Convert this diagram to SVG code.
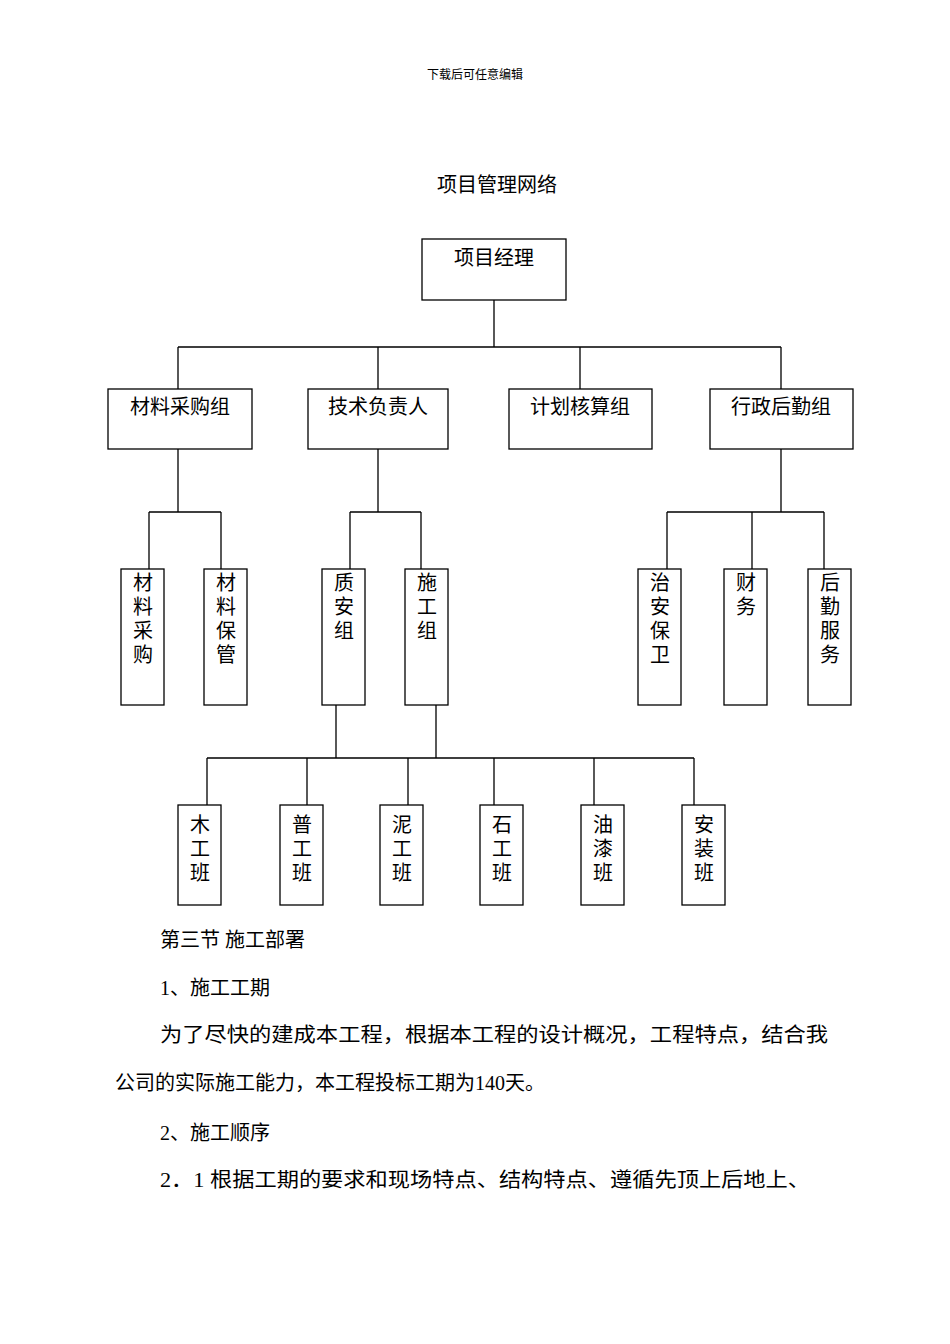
<svg xmlns="http://www.w3.org/2000/svg" width="950" height="1344" viewBox="0 0 950 1344">
<style>
text{font-family:"Liberation Serif","Noto Sans CJK SC",serif;fill:#000}
.b{fill:#fff;stroke:#000;stroke-width:1.3}
.l{stroke:#000;stroke-width:1.3;fill:none}
.t{font-size:20px;text-anchor:middle}
.p{font-size:20px}
</style>
<rect width="950" height="1344" fill="#fff"/>
<text x="475" y="79" font-size="12" text-anchor="middle">下载后可任意编辑</text>
<text x="497" y="192" font-size="20" text-anchor="middle">项目管理网络</text>
<g id="connectors" class="l">
<path d="M494 300V347M178 347H781M178 347V389M378 347V389M580 347V389M781 347V389"/>
<path d="M178 449V512M149 512H221M149 512V569M221 512V569"/>
<path d="M378 449V512M350 512H421M350 512V569M421 512V569"/>
<path d="M781 449V512M667 512H824M667 512V569M752 512V569M824 512V569"/>
<path d="M336 705V758M436 705V758M207 758H694M207 758V805M307 758V805M408 758V805M494 758V805M594 758V805M694 758V805"/>
</g>
<g id="n0"><rect class="b" x="422" y="239" width="144" height="61"/><text class="t" x="494" y="265">项目经理</text></g>
<g id="n1"><rect class="b" x="108" y="389" width="144" height="60"/><text class="t" x="180" y="414">材料采购组</text></g>
<g id="n2"><rect class="b" x="308" y="389" width="140" height="60"/><text class="t" x="378" y="414">技术负责人</text></g>
<g id="n3"><rect class="b" x="509" y="389" width="143" height="60"/><text class="t" x="580" y="414">计划核算组</text></g>
<g id="n4"><rect class="b" x="710" y="389" width="143" height="60"/><text class="t" x="781" y="414">行政后勤组</text></g>
<g id="n5"><rect class="b" x="121" y="569" width="43" height="136"/><text class="t" x="143" y="590">材</text><text class="t" x="143" y="614">料</text><text class="t" x="143" y="638">采</text><text class="t" x="143" y="662">购</text></g>
<g id="n6"><rect class="b" x="204" y="569" width="43" height="136"/><text class="t" x="226" y="590">材</text><text class="t" x="226" y="614">料</text><text class="t" x="226" y="638">保</text><text class="t" x="226" y="662">管</text></g>
<g id="n7"><rect class="b" x="322" y="569" width="43" height="136"/><text class="t" x="344" y="590">质</text><text class="t" x="344" y="614">安</text><text class="t" x="344" y="638">组</text></g>
<g id="n8"><rect class="b" x="405" y="569" width="43" height="136"/><text class="t" x="427" y="590">施</text><text class="t" x="427" y="614">工</text><text class="t" x="427" y="638">组</text></g>
<g id="n9"><rect class="b" x="638" y="569" width="43" height="136"/><text class="t" x="660" y="590">治</text><text class="t" x="660" y="614">安</text><text class="t" x="660" y="638">保</text><text class="t" x="660" y="662">卫</text></g>
<g id="n10"><rect class="b" x="724" y="569" width="43" height="136"/><text class="t" x="746" y="590">财</text><text class="t" x="746" y="614">务</text></g>
<g id="n11"><rect class="b" x="808" y="569" width="43" height="136"/><text class="t" x="830" y="590">后</text><text class="t" x="830" y="614">勤</text><text class="t" x="830" y="638">服</text><text class="t" x="830" y="662">务</text></g>
<g id="n12"><rect class="b" x="178" y="805" width="43" height="100"/><text class="t" x="200" y="832">木</text><text class="t" x="200" y="856">工</text><text class="t" x="200" y="880">班</text></g>
<g id="n13"><rect class="b" x="280" y="805" width="43" height="100"/><text class="t" x="302" y="832">普</text><text class="t" x="302" y="856">工</text><text class="t" x="302" y="880">班</text></g>
<g id="n14"><rect class="b" x="380" y="805" width="43" height="100"/><text class="t" x="402" y="832">泥</text><text class="t" x="402" y="856">工</text><text class="t" x="402" y="880">班</text></g>
<g id="n15"><rect class="b" x="480" y="805" width="43" height="100"/><text class="t" x="502" y="832">石</text><text class="t" x="502" y="856">工</text><text class="t" x="502" y="880">班</text></g>
<g id="n16"><rect class="b" x="581" y="805" width="43" height="100"/><text class="t" x="603" y="832">油</text><text class="t" x="603" y="856">漆</text><text class="t" x="603" y="880">班</text></g>
<g id="n17"><rect class="b" x="682" y="805" width="43" height="100"/><text class="t" x="704" y="832">安</text><text class="t" x="704" y="856">装</text><text class="t" x="704" y="880">班</text></g>
<text class="p" x="160" y="947">第三节 施工部署</text>
<text class="p" x="160" y="995">1、施工工期</text>
<text class="p" x="160" y="1042" textLength="668" lengthAdjust="spacingAndGlyphs">为了尽快的建成本工程，根据本工程的设计概况，工程特点，结合我</text>
<text class="p" x="115" y="1090">公司的实际施工能力，本工程投标工期为140天。</text>
<text class="p" x="160" y="1140">2、施工顺序</text>
<text class="p" x="160" y="1187" textLength="650" lengthAdjust="spacingAndGlyphs">2．1 根据工期的要求和现场特点、结构特点、遵循先顶上后地上、</text>
</svg>
